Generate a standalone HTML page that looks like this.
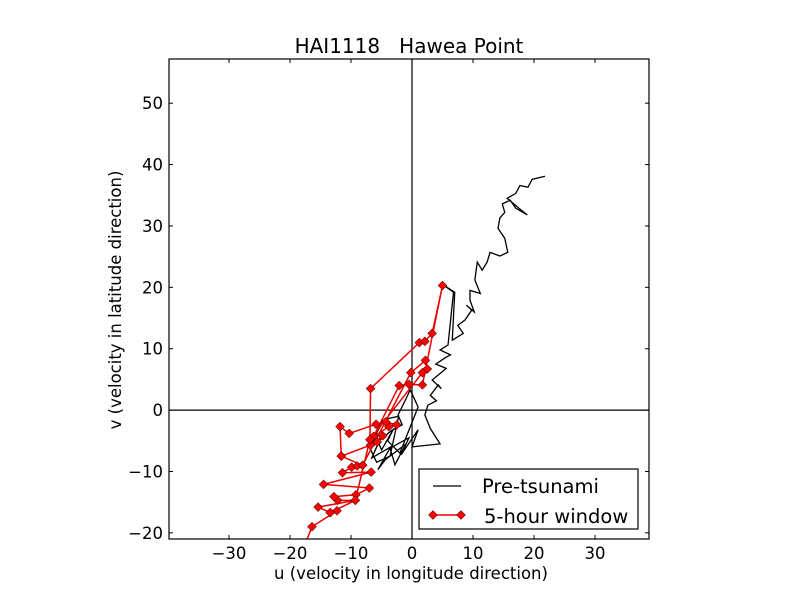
<!DOCTYPE html>
<html><head><meta charset="utf-8"><style>
body{margin:0;background:#fff;font-family:"Liberation Sans","DejaVu Sans",sans-serif}
svg text{font-family:"DejaVu Sans","Liberation Sans",sans-serif}
</style></head><body>
<svg id="c" width="800" height="600"></svg>
<script>
const xTicks=[-30,-20,-10,0,10,20,30];
const yTicks=[-20,-10,0,10,20,30,40,50];
const preU=[21.8,19.7,19.0,17.7,17.0,15.6,17.5,18.9,17.0,16.1,14.8,15.2,14.4,14.1,15.2,15.7,14.4,12.8,12.3,11.5,10.7,10.3,11.2,9.5,9.5,10.2,8.9,9.8,8.7,7.5,8.4,6.6,7.0,5.1,6.8,5.9,4.6,6.3,5.4,3.9,5.6,4.9,3.3,4.8,4.3,3.0,4.0,2.6,2.1,3.0,4.6,0,1.0,-1.8,-0.5,-3.6,-2.8,-1.0,-4.4,-5.6,-3.5,-6.6,-5.3,-3.3,-1.6,-2.3,-1.1,-0.3,1.0,-2.0,-4.0,-3.0,-5.0,-6.0,-4.5,-2.2,-3.6,-5.8,-7.0,-5.2];
const preV=[38.1,37.6,36.3,36.6,35.3,34.5,32.9,31.8,32.9,34.2,33.6,32.2,31.3,29.6,28.0,25.7,25.1,25.7,24.1,22.8,24.1,21.2,19.0,19.5,17.9,16.0,17.1,16.3,14.7,13.8,12.5,11.4,19.2,20.4,19.2,10.6,9.8,9.0,8.5,7.5,6.8,6.2,4.9,3.5,4.1,2.4,1.5,0.8,-0.8,-3.0,-5.5,-6.0,-3.2,-7.3,-4.5,-6.2,-8.9,-5.5,-8.1,-9.7,-6.0,-7.8,-4.9,-3.3,-2.4,-0.8,1.6,3.3,0.5,-7.0,-5.0,-3.0,-6.5,-4.0,-1.5,-1.0,-7.5,-8.5,-6.0,-3.5];
const winU=[-18,-16.4,-12.3,-13.4,-15.4,-9.3,-12.2,-12.8,-9.2,-7.0,-14.5,-6.7,-11.4,-9.9,-9.0,-8.1,-11.6,-6.8,-4.8,-5.7,-6.9,-6.8,1.2,2.1,3.3,5.0,1.7,-0.5,-2.1,-6.3,-3.8,-2.5,-4.3,-5.9,-10.3,-11.8,-11.6,-8.1,-0.2,2.2,2.5,1.7,-6.9,-9.3,-13.4];
const winV=[-23,-19.0,-16.4,-16.7,-15.8,-14.7,-14.7,-14.1,-13.8,-12.7,-12.1,-10.1,-10.2,-9.3,-9.1,-9.0,-7.5,-5.7,-4.2,-5.2,-4.8,3.5,11.0,11.2,12.5,20.3,4.1,4.2,4.0,-4.3,-2.7,-2.4,-1.9,-2.3,-3.8,-2.7,-7.5,-9.0,6.1,8.1,6.7,6.1,-4.8,-14.7,-16.7];
const L=169,R=649,T=59,B=539,xmin=-39.84,xmax=38.85,ymin=-21.0,ymax=57.2;
const X=u=>L+(u-xmin)/(xmax-xmin)*(R-L);
const Y=v=>B-(v-ymin)/(ymax-ymin)*(B-T);
const NS="http://www.w3.org/2000/svg",svg=document.getElementById('c');
function mk(t,a,p){const e=document.createElementNS(NS,t);for(const k in a)e.setAttribute(k,a[k]);(p||svg).appendChild(e);return e;}
const defs=mk('defs',{});const cp=mk('clipPath',{id:'pc'},defs);mk('rect',{x:L,y:T,width:R-L,height:B-T},cp);
const g=mk('g',{'clip-path':'url(#pc)'});
let e=mk('line',{x1:X(0),x2:X(0),y1:T,y2:B,stroke:'#000','stroke-width':1.2},g);


e=mk('line',{x1:L,x2:R,y1:Y(0),y2:Y(0),stroke:'#000','stroke-width':1.2},g);


e=mk('polyline',{points:preU.map((u,i)=>X(u)+','+Y(preV[i])).join(' '),fill:'none',stroke:'#000','stroke-width':1.3},g);


e=mk('polyline',{points:winU.map((u,i)=>X(u)+','+Y(winV[i])).join(' '),fill:'none',stroke:'#e00','stroke-width':1.5},g);


winU.forEach((u,i)=>{const x=X(u),y=Y(winV[i]);
const m=mk('polygon',{points:`${x},${y-4.5} ${x+4.5},${y} ${x},${y+4.5} ${x-4.5},${y}`,fill:'#f00',stroke:'#000','stroke-width':0.5},g);

});
e=mk('rect',{x:L,y:T,width:R-L,height:B-T,fill:'none',stroke:'#000','stroke-width':1.2});


xTicks.forEach(t=>{const x=X(t);mk('line',{x1:x,x2:x,y1:B,y2:B-4,stroke:'#000'});mk('line',{x1:x,x2:x,y1:T,y2:T+4,stroke:'#000'});
const s=mk('text',{x:x,y:B+20,'text-anchor':'middle','font-size':16.5});s.textContent=t<0?'\u2212'+(-t):t;

});
yTicks.forEach(t=>{const y=Y(t);mk('line',{x1:L,x2:L+4,y1:y,y2:y,stroke:'#000'});mk('line',{x1:R,x2:R-4,y1:y,y2:y,stroke:'#000'});
const s=mk('text',{x:L-6,y:y+6,'text-anchor':'end','font-size':16.5});s.textContent=t<0?'\u2212'+(-t):t;

});
e=mk('text',{x:409,y:53,'text-anchor':'middle','font-size':20});e.textContent='HAI1118   Hawea Point';e.style.whiteSpace='pre';


e=mk('text',{x:411,y:579,'text-anchor':'middle','font-size':16.5});e.textContent='u (velocity in longitude direction)';


e=mk('text',{x:121,y:300,'text-anchor':'middle','font-size':16.5,transform:'rotate(-90 121 300)'});e.textContent='v (velocity in latitude direction)';


const lg=mk('g',{});


mk('rect',{x:419,y:469,width:219,height:60,fill:'#fff',stroke:'#000','stroke-width':1.2},lg);
mk('line',{x1:433,x2:461,y1:486,y2:486,stroke:'#000','stroke-width':1.3},lg);
e=mk('text',{x:482,y:493,'font-size':19.5},lg);e.textContent='Pre-tsunami';


mk('line',{x1:433,x2:461,y1:515,y2:515,stroke:'#e00','stroke-width':1.5},lg);
[433,461].forEach(x=>mk('polygon',{points:`${x},510.5 ${x+4.5},515 ${x},519.5 ${x-4.5},515`,fill:'#f00',stroke:'#000','stroke-width':0.5},lg));
e=mk('text',{x:484,y:523,'font-size':19.5},lg);e.textContent='5-hour window';


</script>
</body></html>
